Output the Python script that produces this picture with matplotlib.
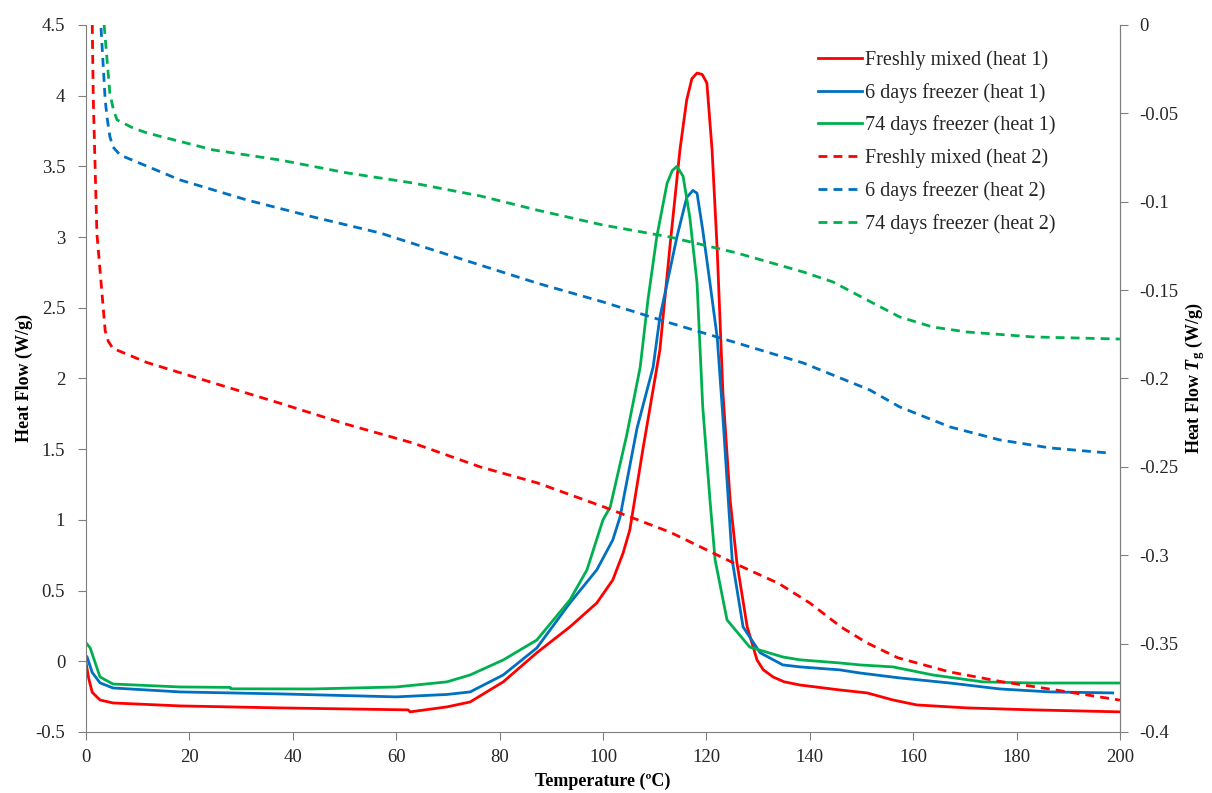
import matplotlib
matplotlib.use('Agg')
import matplotlib.pyplot as plt

plt.rcParams['font.family'] = ['Liberation Serif', 'DejaVu Serif']
plt.rcParams['mathtext.fontset'] = 'custom'
plt.rcParams['mathtext.rm'] = 'Liberation Serif'
plt.rcParams['mathtext.it'] = 'Liberation Serif:italic'
plt.rcParams['mathtext.bf'] = 'Liberation Serif:bold'
plt.rcParams['mathtext.bfit'] = 'Liberation Serif:bold:italic'

# ── heat 1 (left axis, W/g) ──────────────────────────────────────────────────
fresh1_x = [0, 0.5, 1.2, 2.7, 5.2, 18.2, 37.5, 62.3, 62.7, 69.8, 74.3, 80.7,
            87.2, 93.6, 98.8, 101.9, 103.9, 105.2, 107.7, 111.0, 113.0, 114.9,
            116.2, 117.2, 118.2, 119.2, 120.1, 121.1, 122.1, 123.2, 124.6, 125.9,
            127.9, 129.8, 131.0, 132.9, 135.0, 138.1, 145.8, 151.1, 156.1, 160.7,
            170.4, 183.2, 200]
fresh1_y = [-0.01, -0.12, -0.22, -0.274, -0.295, -0.316, -0.33, -0.344, -0.358,
            -0.323, -0.288, -0.146, 0.06, 0.243, 0.412, 0.575, 0.766, 0.93,
            1.494, 2.2, 2.95, 3.62, 3.97, 4.12, 4.16, 4.15, 4.09, 3.62, 2.91,
            1.9, 1.14, 0.70, 0.243, 0.009, -0.06, -0.111, -0.145, -0.168,
            -0.203, -0.224, -0.274, -0.309, -0.33, -0.344, -0.358]

d6_1_x = [0.2, 1.2, 2.7, 5.2, 18.2, 37.5, 60.0, 69.8, 74.3, 80.7, 87.2, 93.6,
          98.8, 101.9, 103.3, 106.6, 109.7, 111.0, 114.3, 116.2, 117.4, 118.2,
          119.3, 120.7, 122.1, 123.2, 125.0, 127.1, 130.4, 134.8, 138.1, 145.8,
          149.7, 157.4, 167.1, 176.8, 186.5, 198.6]
d6_1_y = [0.03, -0.08, -0.153, -0.189, -0.217, -0.231, -0.252, -0.235, -0.217,
          -0.097, 0.094, 0.412, 0.646, 0.858, 1.02, 1.65, 2.08, 2.43, 3.0,
          3.28, 3.33, 3.31, 3.05, 2.675, 2.29, 1.728, 0.716, 0.243, 0.06,
          -0.026, -0.04, -0.061, -0.083, -0.118, -0.154, -0.196, -0.217, -0.224]

d74_1_x = [0, 0.8, 2.7, 5.2, 18.2, 27.9, 28.0, 43.8, 60.0, 69.8, 74.3, 80.7,
           87.2, 93.6, 96.9, 100, 101.4, 104.6, 107.2, 108.7, 110.4, 112.4,
           113.4, 114.3, 115.5, 116.8, 118.2, 119.3, 120.7, 121.7, 124.0, 128.4,
           134.8, 138.1, 145.8, 149.7, 156.1, 163.8, 173.5, 183.2, 200]
d74_1_y = [0.13, 0.094, -0.111, -0.161, -0.182, -0.185, -0.195, -0.196, -0.182,
           -0.146, -0.097, 0.009, 0.15, 0.433, 0.646, 1.0, 1.09, 1.6, 2.08,
           2.555, 3.0, 3.38, 3.47, 3.5, 3.43, 3.14, 2.675, 1.8, 1.14, 0.716,
           0.292, 0.1, 0.03, 0.01, -0.012, -0.026, -0.04, -0.097, -0.146,
           -0.154, -0.154]

# ── heat 2 (right axis, Tg region W/g) ───────────────────────────────────────
fresh2_x = [1.2, 1.4, 2.1, 3.7, 4.3, 5.2, 11.8, 24.6, 37.5, 50.5, 63.2, 76.2,
            87.2, 100, 113, 125, 134, 140, 146, 151, 157, 167, 177, 187, 200]
fresh2_y = [0, -0.042, -0.118, -0.173, -0.179, -0.183, -0.191, -0.2025, -0.214,
            -0.226, -0.2365, -0.25, -0.259, -0.2725, -0.287, -0.304, -0.316,
            -0.327, -0.3405, -0.3495, -0.358, -0.366, -0.3715, -0.376, -0.382]

d6_2_x = [2.9, 3.7, 4.1, 4.6, 5.2, 6.6, 18.2, 31.1, 43.9, 56.9, 76.2, 87.2, 100,
          113, 125.9, 138.7, 151.6, 157.4, 167.1, 176.8, 186.5, 197.5]
d6_2_y = [-0.0017, -0.0424, -0.053, -0.063, -0.069, -0.0736, -0.0877, -0.099,
          -0.1086, -0.1177, -0.1358, -0.146, -0.1567, -0.1686, -0.1799, -0.1912,
          -0.2065, -0.2161, -0.2274, -0.2348, -0.2393, -0.2421]

d74_2_x = [3.5, 4.6, 5.3, 6.0, 9.1, 11.8, 24.6, 37.5, 50.5, 63.2, 76.2, 87.2,
           100, 113, 125.9, 138.7, 144.5, 151.1, 157.4, 163.8, 170.4, 183.2, 200]
d74_2_y = [0, -0.0385, -0.048, -0.0537, -0.0583, -0.0611, -0.0707, -0.0764,
           -0.0837, -0.0894, -0.0967, -0.1047, -0.1132, -0.12, -0.129, -0.1397,
           -0.1454, -0.1556, -0.1652, -0.1709, -0.1737, -0.1765, -0.1777]

RED, BLUE, GREEN = '#FF0000', '#0070C0', '#00B050'
DASH = (3.2, 2.2)

fig = plt.figure(figsize=(12.12, 7.93), dpi=100)
ax = fig.add_axes([0.071, 0.077, 0.853, 0.8915])
ax2 = ax.twinx()

l1, = ax.plot(fresh1_x, fresh1_y, color=RED, lw=2, label='Freshly mixed (heat 1)')
l2, = ax.plot(d6_1_x, d6_1_y, color=BLUE, lw=2, label='6 days freezer (heat 1)')
l3, = ax.plot(d74_1_x, d74_1_y, color=GREEN, lw=2, label='74 days freezer (heat 1)')
l4, = ax2.plot(fresh2_x, fresh2_y, color=RED, lw=2, dashes=DASH,
               label='Freshly mixed (heat 2)')
l5, = ax2.plot(d6_2_x, d6_2_y, color=BLUE, lw=2, dashes=DASH,
               label='6 days freezer (heat 2)')
l6, = ax2.plot(d74_2_x, d74_2_y, color=GREEN, lw=2, dashes=DASH,
               label='74 days freezer (heat 2)')

ax.set_xlim(0, 200)
ax.set_ylim(-0.5, 4.5)
ax2.set_ylim(-0.4, 0)
ax.set_xticks(range(0, 201, 20))
ax.set_yticks([-0.5, 0, 0.5, 1, 1.5, 2, 2.5, 3, 3.5, 4, 4.5])
ax.set_yticklabels(['-0.5', '0', '0.5', '1', '1.5', '2', '2.5', '3', '3.5', '4', '4.5'])
ax2.set_yticks([-0.4, -0.35, -0.3, -0.25, -0.2, -0.15, -0.1, -0.05, 0])
ax2.set_yticklabels(['-0.4', '-0.35', '-0.3', '-0.25', '-0.2', '-0.15', '-0.1',
                     '-0.05', '0'])

for a in (ax, ax2):
    a.spines['top'].set_visible(False)
    for sp in ('left', 'right', 'bottom'):
        a.spines[sp].set_color('#7F7F7F')
    a.tick_params(colors='#7F7F7F', labelcolor='#262626', labelsize=13.5,
                  length=6, direction='out')
ax2.spines['left'].set_visible(False)
ax2.spines['bottom'].set_visible(False)
ax.tick_params(axis='y', pad=9)
ax.tick_params(axis='x', pad=6)
ax2.tick_params(axis='y', pad=8)

ax.set_xlabel('Temperature (ºC)', fontsize=13, fontweight='bold', labelpad=5)
ax.set_ylabel('Heat Flow (W/g)', fontsize=13, fontweight='bold', labelpad=2)
ax2.set_ylabel(r'Heat Flow $\mathbfit{T}_{\mathbf{g}}$ (W/g)', fontsize=13,
               fontweight='bold', labelpad=3)

ax.legend(handles=[l1, l2, l3, l4, l5, l6], loc='upper left',
          bbox_to_anchor=(0.69, 0.99), frameon=False, fontsize=14.5,
          handlelength=2.2, handletextpad=0.15, labelspacing=0.64,
          labelcolor='#262626')

fig.savefig('out.png', dpi=100)
